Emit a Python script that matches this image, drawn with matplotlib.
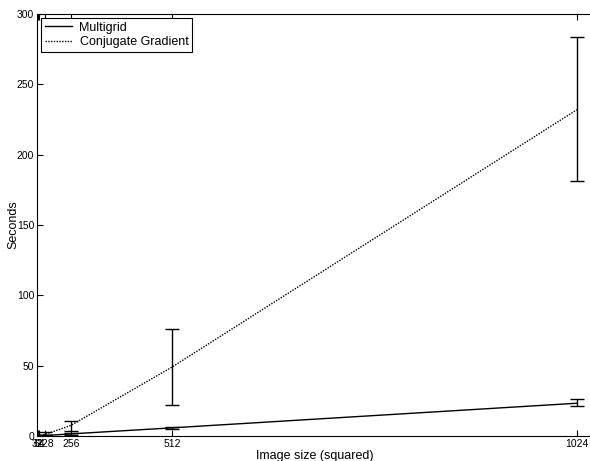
import matplotlib
matplotlib.use("Agg")
import matplotlib.pyplot as plt
import numpy as np

plt.rcParams['font.family'] = ['Liberation Sans', 'DejaVu Sans']

# image sizes (side length) and timings in seconds
sizes = [32, 64, 128, 256, 512, 1024]
mg_mean = [0.05, 0.1, 0.35, 1.5, 5.8, 23.3]
mg_low = [0.03, 0.07, 0.25, 1.0, 5.2, 21.3]
mg_high = [0.08, 0.15, 0.5, 2.2, 6.5, 26.0]
cg_mean = [0.1, 0.3, 1.2, 7.5, 49.0, 232.0]
cg_low = [0.05, 0.15, 0.4, 3.8, 22.0, 181.0]
cg_high = [0.2, 0.6, 3.0, 11.0, 76.0, 284.0]

x = np.array(sizes) ** 2
mg_mean = np.array(mg_mean)
cg_mean = np.array(cg_mean)
mg_err = [mg_mean - np.array(mg_low), np.array(mg_high) - mg_mean]
cg_err = [cg_mean - np.array(cg_low), np.array(cg_high) - cg_mean]

fig = plt.figure(figsize=(5.9, 4.61), dpi=100)
# right edge of the axes sits just past the picture, as in the original
ax = fig.add_axes([37 / 590, 25 / 461, 556 / 590, 422 / 461])

ax.plot(x, mg_mean, color='black', linestyle='-', linewidth=1, label='Multigrid')
ax.plot(x, cg_mean, color='black', linestyle=(0, (1, 1)), linewidth=1,
        label='Conjugate Gradient')
ax.errorbar(x, mg_mean, yerr=mg_err, fmt='none', ecolor='black', capsize=5,
            elinewidth=1)
ax.errorbar(x, cg_mean, yerr=cg_err, fmt='none', ecolor='black', capsize=5,
            elinewidth=1)

ax.set_xlim(0, 1.0797e6)
ax.set_ylim(0, 300)
ax.set_xticks(x)
ax.set_xticklabels([str(s) for s in sizes])
ax.set_yticks(np.arange(0, 301, 50))
ax.tick_params(direction='in', top=True, right=False, labelsize=7.5, length=4, pad=2)
ax.set_xlabel('Image size (squared)', fontsize=9, labelpad=1)
ax.set_ylabel('Seconds', fontsize=9, labelpad=-2)

leg = ax.legend(loc='upper left', fontsize=9, fancybox=False, edgecolor='black',
                framealpha=1, borderaxespad=0.3, handlelength=2.2, borderpad=0.3,
                labelspacing=0.2, handletextpad=0.6)
leg.get_frame().set_linewidth(0.8)

fig.savefig('out.png', dpi=100)
